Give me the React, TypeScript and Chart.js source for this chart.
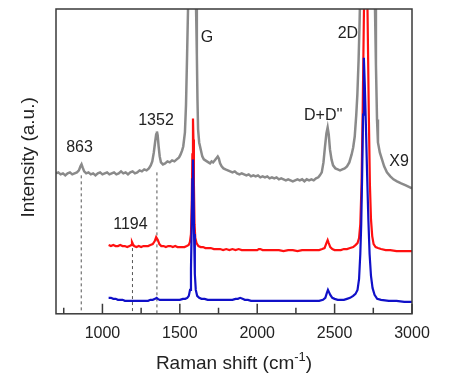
import React, { useEffect, useRef } from "react";
import { Chart, registerables } from "chart.js";

Chart.register(...registerables);

// ---------- data ----------
const xMajorTicks = [1000, 1500, 2000, 2500, 3000];
const xMinorTicks = [750, 1250, 1750, 2250, 2750];

// grey spectrum (x9)
const greyShift = [
  700, 715, 730, 745, 760, 775, 790, 805, 820, 835, 848, 858, 865, 872, 882, 895, 910, 925, 940, 955,
  970, 985, 1000, 1015, 1030, 1045, 1060, 1075, 1090, 1105, 1120, 1135, 1150, 1165, 1180, 1195, 1210, 1225,
  1240, 1255, 1270, 1285, 1300, 1312, 1322, 1332, 1340, 1347, 1352, 1357, 1363, 1370, 1378, 1391, 1405,
  1420, 1435, 1450, 1465, 1480, 1495, 1505, 1515, 1522, 1533, 1540, 1547, 1553, 1560, 1580, 1598, 1605,
  1610, 1614, 1618, 1625, 1635, 1645, 1655, 1665, 1675, 1685, 1695, 1705, 1715, 1725, 1735, 1745, 1752,
  1760, 1770, 1782, 1795, 1810, 1825, 1840, 1855, 1870, 1885, 1900, 1915, 1930, 1945, 1960, 1975, 1990,
  2005, 2020, 2035, 2050, 2065, 2080, 2095, 2110, 2125, 2140, 2155, 2170, 2185, 2200, 2215, 2230, 2245,
  2260, 2275, 2290, 2305, 2320, 2335, 2350, 2365, 2380, 2395, 2405, 2417, 2428, 2438, 2447, 2455, 2462,
  2470, 2480, 2490, 2505, 2520, 2535, 2550, 2565, 2580, 2595, 2610, 2620, 2630, 2640, 2647, 2655, 2661,
  2665, 2690, 2740, 2761, 2767, 2774, 2780, 2792, 2806, 2820, 2838, 2860, 2880, 2903, 2930, 2960, 2987, 3000,
];
const greyIntensity = [
  141, 142, 140, 141, 139, 141, 142, 140, 141, 142, 144, 148, 150, 147, 143, 141, 142, 140, 141, 139,
  141, 142, 140, 141, 142, 140, 141, 142, 140, 141, 143, 141, 142, 140, 142, 143, 141, 142,
  144, 143, 145, 144, 146, 149, 153, 162, 172, 180, 183, 179, 168, 158, 152, 150, 151,
  153, 152, 154, 153, 155, 157, 160, 164, 168, 182, 210, 260, 306, 350, 380, 350, 306,
  260, 215, 185, 172, 165, 158, 155, 154, 153, 152, 151, 153, 152, 154, 156, 158, 156,
  151, 148, 146, 145, 144, 143, 142, 143, 141, 140, 141, 140, 139, 140, 138, 139, 138,
  139, 137, 138, 137, 138, 136, 137, 136, 137, 135, 136, 135, 134, 135, 134, 133, 134,
  135, 134, 135, 133, 135, 134, 135, 134, 136, 137, 139, 142, 152, 168, 181, 187, 180,
  165, 155, 149, 146, 145, 144, 145, 146, 148, 152, 160, 167, 178, 200, 220, 255, 290,
  320, 380, 380, 306, 250, 195, 172, 162, 155, 148, 142, 138, 135, 133, 131, 129, 127, 126,
];

// red spectrum
const redShift = [
  1040, 1055, 1070, 1085, 1100, 1115, 1130, 1145, 1160, 1175, 1185, 1191, 1197, 1205, 1220, 1235, 1250,
  1265, 1280, 1295, 1310, 1325, 1338, 1347, 1352, 1358, 1368, 1380, 1395, 1410, 1425, 1440, 1455, 1470,
  1485, 1500, 1515, 1530, 1545, 1557, 1565, 1572, 1577, 1581, 1585, 1588, 1591, 1595, 1600, 1608, 1620,
  1635, 1650, 1665, 1680, 1700, 1720, 1740, 1760, 1780, 1800, 1820, 1840, 1860, 1880, 1900, 1920, 1940,
  1960, 1980, 2000, 2010, 2020, 2035, 2050, 2080, 2110, 2140, 2170, 2200, 2230, 2260, 2290, 2320, 2350,
  2380, 2400, 2420, 2435, 2447, 2455, 2462, 2472, 2485, 2500, 2520, 2540, 2560, 2580, 2600, 2620, 2635,
  2648, 2658, 2666, 2674, 2682, 2690, 2697, 2705, 2713, 2721, 2728, 2735, 2743, 2752, 2765, 2780, 2800,
  2830, 2860, 2900, 2950, 3000,
];
const redIntensity = [
  69, 68, 69, 68, 68, 69, 68, 68, 67, 68, 69, 72, 70, 68, 67, 68, 67,
  68, 68, 68, 69, 70, 73, 77, 77, 74, 70, 68, 68, 67, 68, 68, 67, 68,
  67, 67, 67, 67, 68, 69, 72, 80, 110, 160, 196, 175, 130, 90, 76, 71, 68,
  67, 67, 66, 66, 66, 65, 65, 65, 64, 65, 64, 65, 64, 65, 64, 64, 64,
  64, 64, 64, 65, 65, 64, 64, 64, 64, 64, 63, 64, 64, 63, 64, 64, 64,
  64, 64, 65, 66, 71, 74, 71, 67, 65, 64, 64, 64, 65, 65, 66, 67, 69,
  71, 76, 90, 130, 210, 310, 400, 380, 300, 200, 130, 95, 78, 70, 67, 66, 65,
  64, 64, 63, 63, 63,
];

// blue spectrum
const blueShift = [
  1040, 1055, 1070, 1085, 1100, 1115, 1130, 1145, 1160, 1175, 1190, 1205, 1220, 1235, 1250, 1265, 1280,
  1295, 1310, 1325, 1340, 1350, 1358, 1370, 1385, 1400, 1420, 1440, 1460, 1480, 1500, 1520, 1535, 1548,
  1558, 1566, 1572, 1577, 1581, 1585, 1588, 1592, 1597, 1603, 1612, 1625, 1640, 1660, 1680, 1700, 1720,
  1740, 1760, 1780, 1800, 1820, 1840, 1860, 1875, 1890, 1905, 1920, 1940, 1960, 1980, 2010, 2040, 2070,
  2100, 2130, 2160, 2190, 2220, 2250, 2280, 2310, 2340, 2370, 2400, 2425, 2440, 2450, 2457, 2463, 2472,
  2485, 2500, 2520, 2540, 2560, 2580, 2600, 2620, 2635, 2648, 2658, 2666, 2672, 2678, 2684, 2689, 2695,
  2702, 2710, 2718, 2726, 2735, 2745, 2758, 2775, 2800, 2850, 2900, 2950, 3000,
];
const blueIntensity = [
  16, 16, 15, 15, 14, 14, 14, 13, 13, 13, 13, 13, 13, 13, 13, 13, 13,
  13, 14, 14, 15, 16, 15, 14, 14, 14, 14, 14, 14, 14, 14, 15, 15, 16,
  18, 24, 45, 90, 135, 155, 130, 80, 40, 24, 18, 16, 15, 15, 14, 14, 14,
  14, 14, 14, 14, 14, 14, 15, 15, 16, 15, 14, 14, 13, 13, 13, 13, 13,
  13, 13, 13, 13, 13, 13, 13, 13, 13, 13, 13, 14, 16, 21, 24, 22, 19,
  16, 15, 14, 14, 14, 15, 16, 18, 20, 24, 35, 60, 90, 140, 200, 257, 230,
  190, 140, 95, 60, 38, 26, 19, 15, 14, 13, 13, 12, 12,
];

// dashed markers
const markerShift = [863, 1194, 1352];
const markerTop = [139, 66, 142];

// peak labels
const labelText = ["863", "1352", "G", "D+D''", "2D", "X9", "1194"];
const labelShift = [852, 1346, 1676, 2427, 2586, 2916, 1181];
const labelLevel = [167, 194, 277, 199, 281, 153, 90];

const xTitle = "Raman shift (cm";
const xTitleSup = "-1";
const yTitle = "Intensity (a.u.)";

const FONT = "'Liberation Sans', Arial, sans-serif";

const toPts = (xs: number[], ys: number[]) => xs.map((x, i) => ({ x, y: ys[i] }));

const decorPlugin = {
  id: "decor",
  afterDraw(chart: any) {
    const { ctx, chartArea: a, scales } = chart;
    const xs = scales.x;
    const ys = scales.y;
    ctx.save();
    // frame
    ctx.strokeStyle = "#3a3a3a";
    ctx.lineWidth = 1.5;
    ctx.strokeRect(a.left, a.top, a.right - a.left, a.bottom - a.top);
    // inward ticks
    ctx.lineWidth = 1.5;
    ctx.beginPath();
    xMajorTicks.forEach((v) => {
      const px = xs.getPixelForValue(v);
      ctx.moveTo(px, a.bottom);
      ctx.lineTo(px, a.bottom - 10);
    });
    xMinorTicks.forEach((v) => {
      const px = xs.getPixelForValue(v);
      ctx.moveTo(px, a.bottom);
      ctx.lineTo(px, a.bottom - 6);
    });
    ctx.stroke();
    // peak labels
    ctx.fillStyle = "#222";
    ctx.font = `16px ${FONT}`;
    ctx.textAlign = "center";
    ctx.textBaseline = "middle";
    labelText.forEach((t, i) => {
      ctx.fillText(t, xs.getPixelForValue(labelShift[i]), ys.getPixelForValue(labelLevel[i]));
    });
    // x title
    ctx.font = `19px ${FONT}`;
    ctx.textBaseline = "alphabetic";
    ctx.textAlign = "left";
    const w1 = ctx.measureText(xTitle).width;
    ctx.font = `13px ${FONT}`;
    const w2 = ctx.measureText(xTitleSup).width;
    ctx.font = `19px ${FONT}`;
    const w3 = ctx.measureText(")").width;
    const total = w1 + w2 + w3;
    const cx = (a.left + a.right) / 2;
    let sx = cx - total / 2;
    const by = a.bottom + 55;
    ctx.fillText(xTitle, sx, by);
    sx += w1;
    ctx.font = `13px ${FONT}`;
    ctx.fillText(xTitleSup, sx, by - 8);
    sx += w2;
    ctx.font = `19px ${FONT}`;
    ctx.fillText(")", sx, by);
    // y title
    ctx.save();
    ctx.translate(a.left - 22, (a.top + a.bottom) / 2 - 4);
    ctx.rotate(-Math.PI / 2);
    ctx.textAlign = "center";
    ctx.textBaseline = "alphabetic";
    ctx.font = `19px ${FONT}`;
    ctx.fillText(yTitle, 0, 0);
    ctx.restore();
    ctx.restore();
  },
};

export default function App() {
  const ref = useRef<HTMLCanvasElement>(null);
  useEffect(() => {
    if (!ref.current) return;
    const markerSets = markerShift.map((x, i) => ({
      data: [
        { x, y: markerTop[i] },
        { x, y: 0 },
      ],
      borderColor: "#555",
      borderWidth: 1,
      borderDash: [3, 3],
      pointRadius: 0,
      order: 5,
    }));
    const chart = new Chart(ref.current, {
      type: "line",
      data: {
        datasets: [
          {
            data: toPts(blueShift, blueIntensity),
            borderColor: "#1010c8",
            borderWidth: 2.2,
            pointRadius: 0,
            tension: 0,
            order: 1,
          },
          {
            data: toPts(redShift, redIntensity),
            borderColor: "#ff1010",
            borderWidth: 2.2,
            pointRadius: 0,
            tension: 0,
            order: 2,
          },
          {
            data: toPts(greyShift, greyIntensity),
            borderColor: "#8a8a8a",
            borderWidth: 2.5,
            pointRadius: 0,
            tension: 0,
            order: 3,
          },
          ...markerSets,
        ],
      },
      options: {
        animation: false,
        responsive: false,
        events: [],
        layout: { padding: { left: 56, right: 40, top: 9, bottom: 32 } },
        plugins: { legend: { display: false }, tooltip: { enabled: false } },
        scales: {
          x: {
            type: "linear",
            min: 700,
            max: 3000,
            afterBuildTicks: (scale: any) => {
              scale.ticks = xMajorTicks.map((v) => ({ value: v }));
            },
            grid: { display: false, drawTicks: false },
            border: { display: false },
            ticks: {
              padding: 10,
              color: "#222",
              font: { family: FONT, size: 16 },
              maxRotation: 0,
              autoSkip: false,
              callback: (v: any) => String(v),
            },
          },
          y: {
            display: false,
            min: 0,
            max: 306,
          },
        },
      },
      plugins: [decorPlugin],
    });
    return () => chart.destroy();
  }, []);
  return (
    <div style={{ position: "fixed", left: 0, top: 0, width: 452, height: 385, background: "#fff" }}>
      <canvas ref={ref} width={452} height={385} />
    </div>
  );
}
